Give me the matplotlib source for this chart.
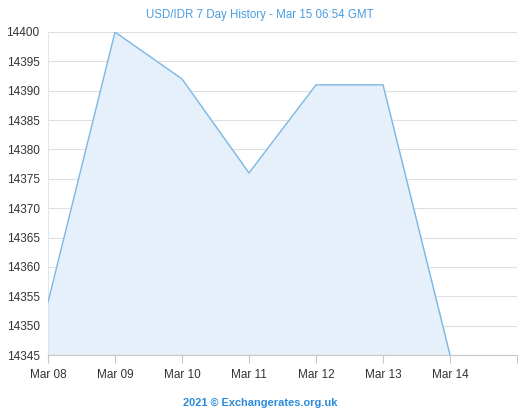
import matplotlib.pyplot as plt

days = ['Mar 08', 'Mar 09', 'Mar 10', 'Mar 11', 'Mar 12', 'Mar 13', 'Mar 14']
rates = [14354, 14400, 14392, 14376, 14391, 14391, 14345]
yticks = [14345, 14350, 14355, 14360, 14365, 14370, 14375, 14380, 14385, 14390, 14395, 14400]

plt.rcParams['font.family'] = ['Liberation Sans', 'DejaVu Sans']

fig = plt.figure(figsize=(5.2, 4.2), dpi=100)
ax = fig.add_axes([48/520, 65/420, 469/520, 323/420])

x = list(range(len(days)))
ax.fill_between(x, rates, 14345, color='#e5f0fa', zorder=1)
ax.plot(x, rates, color='#7cb8e6', lw=1.0, zorder=3)

ax.set_xlim(0, 7)
ax.set_ylim(14345, 14400)
ax.set_xticks(range(8))
ax.set_xticklabels(days + [''])
ax.set_yticks(yticks)
ax.tick_params(axis='x', length=6, color='#c8c8c8', labelsize=8.5, labelcolor='#333333', pad=4)
ax.tick_params(axis='y', length=0, labelsize=8.5, labelcolor='#333333', pad=6)
ax.grid(axis='y', color='#e0e0e0', lw=0.8, zorder=0)
ax.set_axisbelow(True)
for s in ['top', 'right']:
    ax.spines[s].set_visible(False)
ax.spines['left'].set_color('#dde6ee')
ax.spines['bottom'].set_color('#c8c8c8')

fig.text(0.5, 1 - 15/420, 'USD/IDR 7 Day History - Mar 15 06:54 GMT',
         ha='center', va='center', color='#4a9de0', fontsize=8.3)
fig.text(0.5, 1 - 403/420, '2021 \u00a9 Exchangerates.org.uk',
         ha='center', va='center', color='#2a8ad8', fontsize=7.9, fontweight='bold')

fig.savefig('out.png', dpi=100)
